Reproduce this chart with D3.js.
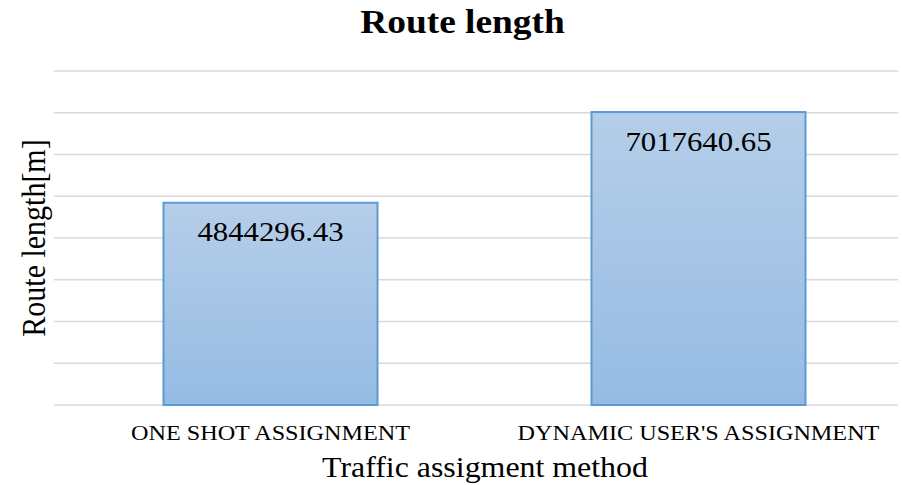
<!DOCTYPE html>
<html>
<head>
<meta charset="utf-8">
<script src="https://cdn.jsdelivr.net/npm/d3@7"></script>
<style>
  body { margin: 0; background: #fff; }
  text { font-family: "Liberation Serif", "Times New Roman", serif; fill: #000; }
</style>
</head>
<body>
<div id="chart"></div>
<script>
// data
const methods = ["ONE SHOT ASSIGNMENT", "DYNAMIC USER'S ASSIGNMENT"];
const routeLength = [4844296.43, 7017640.65];
const gridValues = [0, 1e6, 2e6, 3e6, 4e6, 5e6, 6e6, 7e6, 8e6];

const W = 902, H = 485;
const sx = 1.1; // the original is a bit stretched sideways

const svg = d3.select('#chart').append('svg')
    .attr('width', W)
    .attr('height', H);

const defs = svg.append('defs');
const grad = defs.append('linearGradient')
    .attr('id', 'barFill')
    .attr('x1', 0).attr('y1', 0).attr('x2', 0).attr('y2', 1);
grad.append('stop').attr('offset', '0%').attr('stop-color', '#b5cee9');
grad.append('stop').attr('offset', '100%').attr('stop-color', '#96bbe3');

const x = d3.scaleBand()
    .domain(methods)
    .range([56.5, 912.5])
    .paddingInner(0.5)
    .paddingOuter(0.25);

const y = d3.scaleLinear()
    .domain([0, 8e6])
    .range([405, 71]);

// gridlines
svg.append('g')
    .selectAll('line')
    .data(gridValues)
    .enter()
    .append('line')
    .attr('x1', 54)
    .attr('x2', 898)
    .attr('y1', d => y(d))
    .attr('y2', d => y(d))
    .attr('stroke', '#d9d9d9')
    .attr('stroke-width', 1.5);

// bars
svg.append('g')
    .selectAll('rect')
    .data(routeLength)
    .enter()
    .append('rect')
    .attr('x', (d, i) => x(methods[i]))
    .attr('y', d => y(d))
    .attr('width', x.bandwidth())
    .attr('height', d => y(0) - y(d))
    .attr('fill', 'url(#barFill)')
    .attr('stroke', '#5b9bd5')
    .attr('stroke-width', 2);

// value labels
svg.append('g')
    .selectAll('text')
    .data(routeLength)
    .enter()
    .append('text')
    .attr('transform', (d, i) => `translate(${x(methods[i]) + x.bandwidth() / 2}, ${y(d) + 38.5}) scale(${sx},1)`)
    .attr('text-anchor', 'middle')
    .style('font-size', '28px')
    .text(d => d.toFixed(2));

// category labels
svg.append('g')
    .selectAll('text')
    .data(methods)
    .enter()
    .append('text')
    .attr('transform', d => `translate(${x(d) + x.bandwidth() / 2}, 440) scale(${sx},1)`)
    .attr('text-anchor', 'middle')
    .style('font-size', '22px')
    .text(d => d);

// title
svg.append('text')
    .attr('transform', `translate(462.5, 33) scale(${sx},1)`)
    .attr('text-anchor', 'middle')
    .style('font-size', '34px')
    .style('font-weight', 'bold')
    .text('Route length');

// axis titles
svg.append('text')
    .attr('transform', `translate(485, 477) scale(${sx},1)`)
    .attr('text-anchor', 'middle')
    .style('font-size', '29px')
    .text('Traffic assigment method');

svg.append('text')
    .attr('transform', `translate(45, 238) scale(${sx},1) rotate(-90)`)
    .attr('text-anchor', 'middle')
    .style('font-size', '30px')
    .text('Route length[m]');
</script>
</body>
</html>
